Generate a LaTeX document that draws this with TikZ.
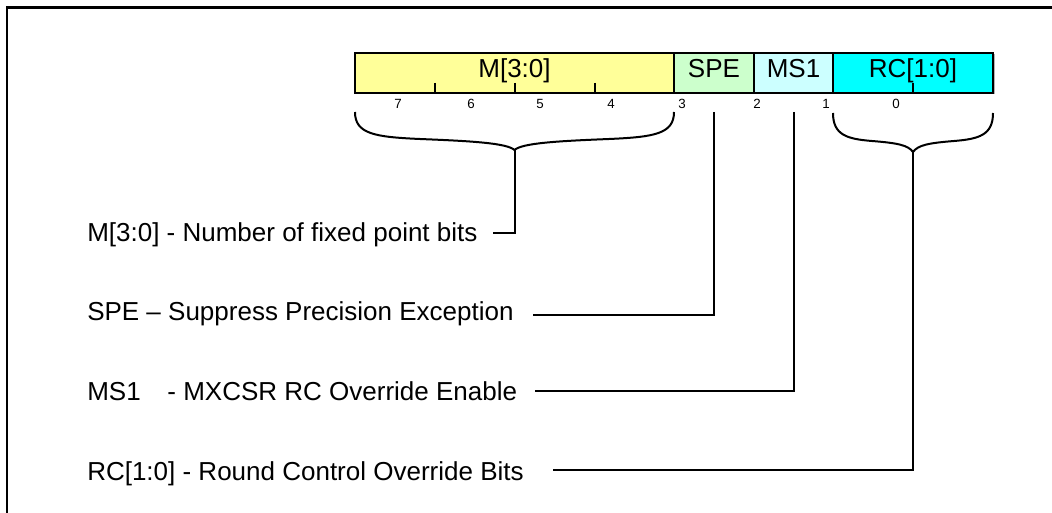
\documentclass[tikz,border=0pt]{standalone}
\usepackage{fontspec}
\setmainfont{Liberation Sans}
\definecolor{fyellow}{HTML}{FFFF99}
\definecolor{fgreen}{HTML}{CCFFCC}
\definecolor{fcyanl}{HTML}{CCFFFF}
\definecolor{fcyan}{HTML}{00FFFF}
\tikzset{
  field/.style={draw=black, line width=1.5pt, inner sep=0pt, minimum height={40*0.75pt},
    text height=0.716em, text depth=0pt, font=\fontsize{19.5}{23}\selectfont},
  bitnum/.style={inner sep=0pt, font=\fontsize{10}{12}\selectfont},
  desc/.style={anchor=base west, inner sep=0pt, font=\fontsize{19.5}{23}\selectfont},
  conn/.style={line width=1.5pt},
  tick/.style={line width=1pt},
  frameline/.style={line width=1.6pt}
}
\begin{document}
\begin{tikzpicture}[x=0.75pt,y=-0.75pt]
\useasboundingbox (0,0) rectangle (1052,513);
% frame
\draw[frameline] (7,513) -- (7,7.5) -- (1052,7.5);
% shadow
\fill[black!30] (356.5,54.5) rectangle (994.5,94.5);
% fields
\node[field, fill=fyellow, minimum width={319*0.75pt}] (m) at (514.5,73) {M[3:0]};
\node[field, fill=fgreen, minimum width={79.5*0.75pt}] (spe) at (714,73) {SPE};
\node[field, fill=fcyanl, minimum width={79.5*0.75pt}] (ms) at (793.5,73) {MS1};
\node[field, fill=fcyan, minimum width={160*0.75pt}] (rc) at (913,73) {RC[1:0]};
% ticks
\foreach \tx in {435,515,595,913} \draw[tick] (\tx,83) -- (\tx,92.5);
% bit numbers
\node[bitnum] (b7) at (398,104) {7};
\node[bitnum] (b6) at (471,104) {6};
\node[bitnum] (b5) at (540,104) {5};
\node[bitnum] (b4) at (611,104) {4};
\node[bitnum] (b3) at (682,104) {3};
\node[bitnum] (b2) at (757,104) {2};
\node[bitnum] (b1) at (826,104) {1};
\node[bitnum] (b0) at (896,104) {0};
% descriptions
\node[desc] (dm) at (87,242) {M[3:0] - Number of fixed point bits};
\node[desc] (dspe) at (87,320) {SPE – Suppress Precision Exception};
\node[desc] (dms) at (87,400) {MS1\hspace{0.75em} - MXCSR RC Override Enable};
\node[desc] (drc) at (87,480) {RC[1:0] - Round Control Override Bits};
% coordinates
\coordinate (mcusp) at (514.5,150);
\coordinate (mend) at (493,233);
\coordinate (spetop) at (714,112);
\coordinate (speend) at (533,315);
\coordinate (mstop) at (794,112);
\coordinate (msend) at (535,391);
\coordinate (rccusp) at (913,152);
\coordinate (rcend) at (553,470);
% braces
\draw[conn] (355,112) .. controls (355,134) and (375,137) .. (420,139)
  .. controls (470,141) and (507,143) .. (mcusp)
  .. controls (522,143) and (559,141) .. (609,139)
  .. controls (654,137) and (674,134) .. (674,112);
\draw[conn] (833,113) .. controls (833,135) and (847,139) .. (872,141)
  .. controls (897,143) and (908,145) .. (rccusp)
  .. controls (918,145) and (929,143) .. (954,141)
  .. controls (979,139) and (993,135) .. (993,113);
% connectors
\draw[conn] (mcusp) |- (mend);
\draw[conn] (spetop) |- (speend);
\draw[conn] (mstop) |- (msend);
\draw[conn] (rccusp) |- (rcend);
\end{tikzpicture}
\end{document}
